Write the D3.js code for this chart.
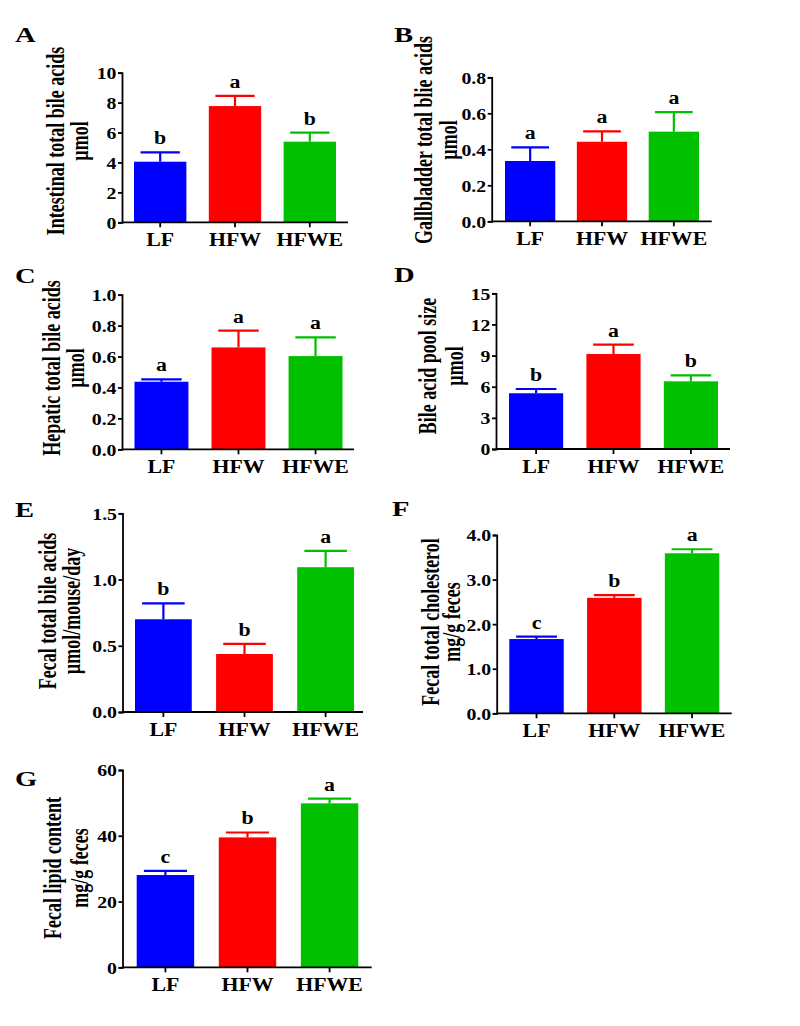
<!DOCTYPE html>
<html><head><meta charset="utf-8">
<script src="https://cdn.jsdelivr.net/npm/d3@7"></script>
<style>
html,body{margin:0;padding:0;background:#fff;}
text{font-family:"Liberation Serif","Times New Roman",serif;font-weight:bold;fill:#000;}
</style></head>
<body>
<svg id="fig" width="800" height="1026"></svg>
<script>
// ---------- data ----------
const groups = ["LF", "HFW", "HFWE"];
const groupColors = ["#0000FF", "#FF0000", "#00C000"];
const panelLetters = ["A", "B", "C", "D", "E", "F", "G"];

const intestinalMean = [4.05, 7.77, 5.39];
const intestinalSem  = [0.63, 0.68, 0.61];
const intestinalSig  = ["b", "a", "b"];

const gallbladderMean = [0.335, 0.442, 0.498];
const gallbladderSem  = [0.076, 0.058, 0.109];
const gallbladderSig  = ["a", "a", "a"];

const hepaticMean = [0.437, 0.659, 0.603];
const hepaticSem  = [0.015, 0.108, 0.121];
const hepaticSig  = ["a", "a", "a"];

const poolMean = [5.37, 9.15, 6.52];
const poolSem  = [0.41, 0.90, 0.58];
const poolSig  = ["b", "a", "b"];

const fecalBaMean = [0.70, 0.438, 1.093];
const fecalBaSem  = [0.12, 0.076, 0.123];
const fecalBaSig  = ["b", "b", "a"];

const fecalCholMean = [1.666, 2.59, 3.59];
const fecalCholSem  = [0.054, 0.06, 0.09];
const fecalCholSig  = ["c", "b", "a"];

const fecalLipidMean = [28.06, 39.5, 49.86];
const fecalLipidSem  = [1.24, 1.5, 1.44];
const fecalLipidSig  = ["c", "b", "a"];

const yTicksA = [0, 2, 4, 6, 8, 10];
const yTicksB = [0, 0.2, 0.4, 0.6, 0.8];
const yTicksC = [0, 0.2, 0.4, 0.6, 0.8, 1.0];
const yTicksD = [0, 3, 6, 9, 12, 15];
const yTicksE = [0, 0.5, 1.0, 1.5];
const yTicksF = [0, 1, 2, 3, 4];
const yTicksG = [0, 20, 40, 60];

const yTitlesA = ["Intestinal total bile acids", "\u00b5mol"];
const yTitlesB = ["Gallbladder total blie acids", "\u00b5mol"];
const yTitlesC = ["Hepatic total bile acids", "\u00b5mol"];
const yTitlesD = ["Bile acid pool size", "\u00b5mol"];
const yTitlesE = ["Fecal total bile acids", "\u00b5mol/mouse/day"];
const yTitlesF = ["Fecal total cholesterol", "mg/g feces"];
const yTitlesG = ["Fecal lipid content", "mg/g feces"];

// ---------- layout (pixel geometry only) ----------
const panels = [
  {mean: intestinalMean, sem: intestinalSem, sig: intestinalSig, ticks: yTicksA, fmt: "d", titles: yTitlesA,
   axL: 122, axR: 348, band: [134, 336], yR: [222.3, 72.7], t1: 64, t2: 88, tc: 141, lx: 15, ly: 41.5},
  {mean: gallbladderMean, sem: gallbladderSem, sig: gallbladderSig, ticks: yTicksB, fmt: ".1f", titles: yTitlesB,
   axL: 491.7, axR: 711.7, band: [505, 699], yR: [221.3, 77.3], t1: 432, t2: 457, tc: 140, lx: 394, ly: 41.5},
  {mean: hepaticMean, sem: hepaticSem, sig: hepaticSig, ticks: yTicksC, fmt: ".1f", titles: yTitlesC,
   axL: 122, axR: 354, band: [134.5, 342.5], yR: [449.3, 294.7], t1: 60, t2: 84, tc: 368, lx: 15, ly: 283},
  {mean: poolMean, sem: poolSem, sig: poolSig, ticks: yTicksD, fmt: "d", titles: yTitlesD,
   axL: 496, axR: 730, band: [509, 718], yR: [449, 293.3], t1: 436, t2: 463, tc: 366, lx: 394, ly: 282},
  {mean: fecalBaMean, sem: fecalBaSem, sig: fecalBaSig, ticks: yTicksE, fmt: ".1f", titles: yTitlesE,
   axL: 122.5, axR: 363, band: [135, 354], yR: [712, 513.3], t1: 56, t2: 80, tc: 611, lx: 15, ly: 517},
  {mean: fecalCholMean, sem: fecalCholSem, sig: fecalCholSig, ticks: yTicksF, fmt: ".1f", titles: yTitlesF,
   axL: 496.7, axR: 731.7, band: [509.3, 719.3], yR: [713.3, 535], t1: 439, t2: 460, tc: 622, lx: 392, ly: 516},
  {mean: fecalLipidMean, sem: fecalLipidSem, sig: fecalLipidSig, ticks: yTicksG, fmt: "d", titles: yTitlesG,
   axL: 122.5, axR: 371.7, band: [136.7, 358.3], yR: [967.3, 770], t1: 61, t2: 88, tc: 868, lx: 15, ly: 786}
];

const svg = d3.select("#fig");
svg.append("rect").attr("width", 800).attr("height", 1026).attr("fill", "#fff");

panels.forEach((p, i) => {
  const g = svg.append("g");
  const x = d3.scaleBand().domain(groups).range(p.band).paddingInner(0.3).paddingOuter(0);
  const y = d3.scaleLinear().domain([0, p.ticks[p.ticks.length - 1]]).range(p.yR);
  const color = d3.scaleOrdinal().domain(groups).range(groupColors);
  const rows = groups.map((k, j) => ({k, m: p.mean[j], s: p.sem[j], sig: p.sig[j]}));

  // bars
  g.selectAll("rect.bar").data(rows).join("rect").attr("class", "bar")
    .attr("x", d => x(d.k)).attr("width", x.bandwidth())
    .attr("y", d => y(d.m)).attr("height", d => y(0) - y(d.m))
    .attr("fill", d => color(d.k));

  // error bars (upper only)
  const capW = x.bandwidth() * 0.75;
  const cx = d => x(d.k) + x.bandwidth() / 2;
  g.selectAll("line.err").data(rows).join("line").attr("class", "err")
    .attr("x1", cx).attr("x2", cx)
    .attr("y1", d => y(d.m)).attr("y2", d => y(d.m + d.s))
    .attr("stroke", d => color(d.k)).attr("stroke-width", 2.2);
  g.selectAll("line.cap").data(rows).join("line").attr("class", "cap")
    .attr("x1", d => cx(d) - capW / 2).attr("x2", d => cx(d) + capW / 2)
    .attr("y1", d => y(d.m + d.s)).attr("y2", d => y(d.m + d.s))
    .attr("stroke", d => color(d.k)).attr("stroke-width", 2.2);

  // significance letters
  g.selectAll("text.sig").data(rows).join("text").attr("class", "sig")
    .attr("transform", d => `translate(${cx(d)},${y(d.m + d.s) - 8}) scale(1.15,1)`)
    .attr("text-anchor", "middle").style("font-size", "19px").text(d => d.sig);

  // y axis
  const ya = g.append("g").attr("transform", `translate(${p.axL},0)`)
    .call(d3.axisLeft(y).tickValues(p.ticks).tickFormat(d3.format(p.fmt)).tickSize(4).tickPadding(1.5));
  ya.select(".domain").attr("stroke-width", 1.8);
  ya.selectAll(".tick line").attr("stroke-width", 1.8);
  ya.selectAll(".tick text").each(function () {
    const t = d3.select(this);
    const xx = +t.attr("x");
    t.attr("x", 0).attr("transform", `translate(${xx},0) scale(1.2,1)`)
      .style("font-size", "16.5px").style("font-family", '"Liberation Serif",serif')
      .style("font-weight", "bold").attr("dy", "0.36em");
  });

  // x axis
  const xa = g.append("g").attr("transform", `translate(0,${y(0)})`)
    .call(d3.axisBottom(x).tickSize(5).tickPadding(5));
  xa.select(".domain").remove();
  xa.append("line").attr("x1", p.axL).attr("x2", p.axR).attr("stroke", "#000").attr("stroke-width", 1.8);
  xa.selectAll(".tick line").attr("stroke-width", 1.8);
  xa.selectAll(".tick text").each(function () {
    const t = d3.select(this);
    const yy = +t.attr("y");
    t.attr("y", 0).attr("transform", `translate(0,${yy}) scale(1.12,1)`)
      .style("font-size", "19.5px").style("font-family", '"Liberation Serif",serif')
      .style("font-weight", "bold");
  });

  // y titles (two lines, baseline at given x)
  [p.t1, p.t2].forEach((tx, j) => {
    g.append("text").attr("transform", `translate(${tx},${p.tc}) scale(1.35,1) rotate(-90)`)
      .attr("text-anchor", "middle").style("font-size", "18px")
      .text(p.titles[j]);
  });

  // panel letter
  g.append("text").attr("transform", `translate(${p.lx},${p.ly}) scale(1.3,1)`)
    .style("font-size", "22px").text(panelLetters[i]);
});
</script>
</body></html>
